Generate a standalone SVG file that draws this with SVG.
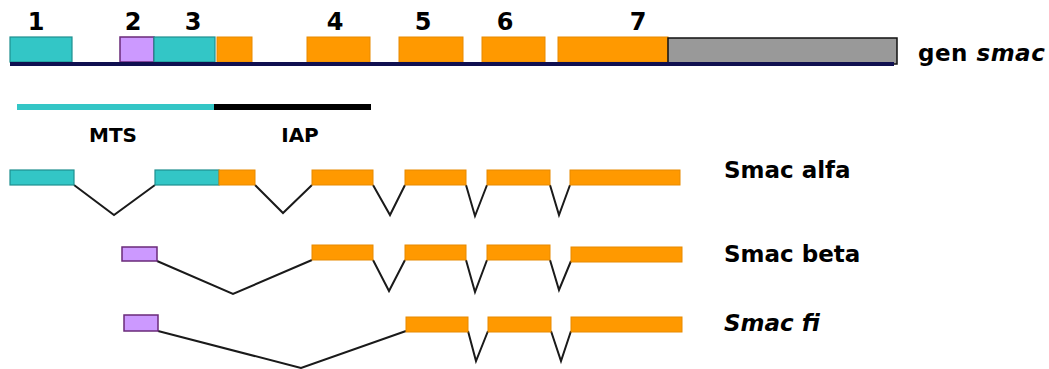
<svg xmlns="http://www.w3.org/2000/svg" width="1049" height="369" viewBox="0 0 1049 369">
<style>
.t{fill:#33C6C6;stroke:#1F8F8F;stroke-width:1.2}
.p{fill:#CC99FF;stroke:#6A2A7A;stroke-width:1.5}
.o{fill:#FF9900;stroke:#E88A00;stroke-width:1}
.g{fill:#999999;stroke:#111;stroke-width:1.5}
.sp{fill:none;stroke:#1a1a1a;stroke-width:2;stroke-linejoin:miter}
text{font-family:"DejaVu Sans","Liberation Sans",sans-serif;font-weight:bold;fill:#000}
.num{font-size:24px}
.lab{font-size:23px}
.dom{font-size:20px}
</style>
<rect width="1049" height="369" fill="#fff"/>
<g id="gene">
  <rect class="t" x="10" y="37" width="62" height="25"/>
  <rect class="p" x="120" y="37" width="34" height="25"/>
  <rect class="t" x="154" y="37" width="61" height="25"/>
  <rect class="o" x="217" y="37" width="35" height="25"/>
  <rect class="o" x="307" y="37" width="63" height="25"/>
  <rect class="o" x="399" y="37" width="64" height="25"/>
  <rect class="o" x="482" y="37" width="63" height="25"/>
  <rect class="o" x="558" y="37" width="110" height="25"/>
  <rect class="g" x="668" y="38" width="229" height="26"/>
  <rect x="10" y="62" width="884" height="4" fill="#101050"/>
  <text class="num" x="36" y="30" text-anchor="middle">1</text>
  <text class="num" x="133" y="30" text-anchor="middle">2</text>
  <text class="num" x="193" y="30" text-anchor="middle">3</text>
  <text class="num" x="335" y="30" text-anchor="middle">4</text>
  <text class="num" x="423" y="30" text-anchor="middle">5</text>
  <text class="num" x="505" y="30" text-anchor="middle">6</text>
  <text class="num" x="638" y="30" text-anchor="middle">7</text>
  <text class="lab" x="918" y="61" letter-spacing="0.5">gen <tspan font-style="italic">smac</tspan></text>
</g>
<g id="domains">
  <rect x="17" y="104" width="197" height="6" fill="#33C6C6"/>
  <rect x="214" y="104" width="157" height="6" fill="#000"/>
  <text class="dom" x="113" y="142" text-anchor="middle">MTS</text>
  <text class="dom" x="300" y="142" text-anchor="middle">IAP</text>
</g>
<g id="connectors">
  <polyline class="sp" points="74,185 114,215 155,185"/>
  <polyline class="sp" points="255,185 283,213 312,185"/>
  <polyline class="sp" points="373,185 390,215 405,185"/>
  <polyline class="sp" points="466,185 475,216 487,185"/>
  <polyline class="sp" points="550,185 559,215 570,185"/>
  <polyline class="sp" points="157,261 233,294 312,260"/>
  <polyline class="sp" points="373,260 389,291 405,260"/>
  <polyline class="sp" points="466,260 475,292 487,260"/>
  <polyline class="sp" points="550,260 559,290 571,261"/>
  <polyline class="sp" points="158,331 301,368 406,331"/>
  <polyline class="sp" points="468,331 476,361 488,331"/>
  <polyline class="sp" points="551,331 561,361 571,331"/>
</g>
<g id="smac-alfa">
  <rect class="t" x="10" y="170" width="64" height="15"/>
  <rect class="t" x="155" y="170" width="64" height="15"/>
  <rect class="o" x="219" y="170" width="36" height="15"/>
  <rect class="o" x="312" y="170" width="61" height="15"/>
  <rect class="o" x="405" y="170" width="61" height="15"/>
  <rect class="o" x="487" y="170" width="63" height="15"/>
  <rect class="o" x="570" y="170" width="110" height="15"/>
  <text class="lab" x="724" y="178">Smac alfa</text>
</g>
<g id="smac-beta">
  <rect class="p" x="122" y="247" width="35" height="14"/>
  <rect class="o" x="312" y="245" width="61" height="15"/>
  <rect class="o" x="405" y="245" width="61" height="15"/>
  <rect class="o" x="487" y="245" width="63" height="15"/>
  <rect class="o" x="571" y="247" width="111" height="15"/>
  <text class="lab" x="724" y="262">Smac beta</text>
</g>
<g id="smac-fi">
  <rect class="p" x="124" y="315" width="34" height="16"/>
  <rect class="o" x="406" y="317" width="62" height="15"/>
  <rect class="o" x="488" y="317" width="63" height="15"/>
  <rect class="o" x="571" y="317" width="111" height="15"/>
  <text class="lab" x="724" y="331" font-style="italic">Smac fi</text>
</g>
</svg>
